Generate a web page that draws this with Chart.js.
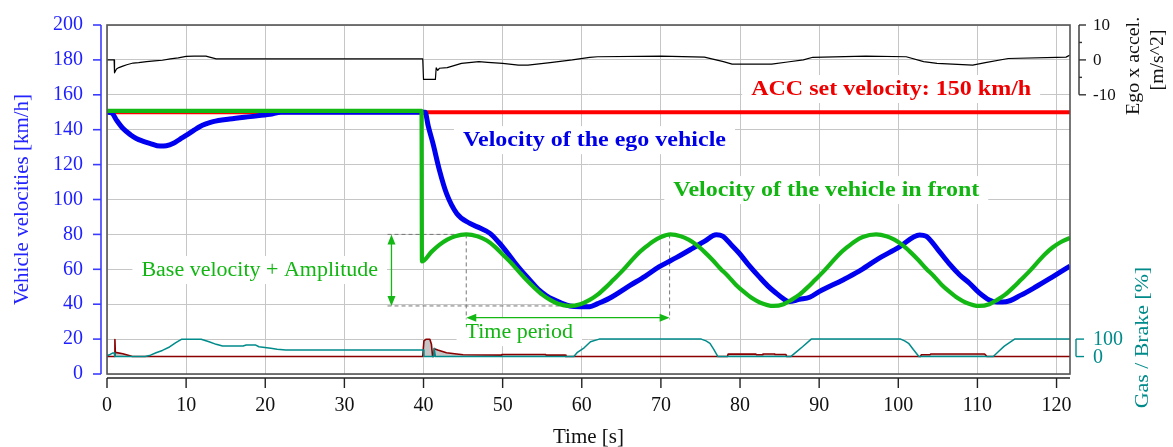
<!DOCTYPE html>
<html>
<head>
<meta charset="utf-8">
<script src="https://cdn.jsdelivr.net/npm/chart.js@4"></script>
<style>
    html, body { margin: 0; padding: 0; background: #fff; }
    #wrap { width: 1173px; height: 447px; }
</style>
</head>
<body>
<div id="wrap"><canvas id="accChart" width="1173" height="447"></canvas></div>
<script>
// Ego vehicle velocity [km/h]
const egoT = [0, 0.6, 1.2, 2, 3, 3.7, 4.5, 5.4, 6.7, 7.5, 8.4, 9.2, 10.1, 11, 11.7, 12.5, 13.4, 15.5, 18.1, 20.6, 22, 30, 40.2,
    40.6, 41.2, 42, 42.9, 44.2, 45.8, 47.2, 48.4, 49.5, 50.5, 51.5, 52.5, 53.5, 54.5, 55.5, 56.5, 57.5, 58.5, 59.8, 61, 62,
    63.5, 66, 68, 69.8, 72, 74, 75.5, 77, 77.8, 79, 79.9, 81, 82.4, 83.5, 84.6, 85.5, 86.2, 87.5, 88.8, 90, 93, 95, 97.2,
    100, 102.7, 103.5, 105, 106.4, 107.8, 109, 110.2, 111.5, 112.5, 113.6, 115.5, 117.4, 119.5, 121.7];
const egoV = [150, 149.6, 145.5, 140.8, 137, 135, 133.5, 132.2, 130.6, 130.8, 132.2, 134.5, 137, 139.7, 141.7, 143.3, 144.6, 146.1, 147.5, 148.8, 150, 150, 150,
    142, 132, 117, 103.5, 92, 86.4, 83.5, 80.6, 75.5, 70, 64, 58.5, 53.5, 48.5, 45, 42.5, 40.5, 39, 38.6, 38.6, 40.3,
    43.4, 50.5, 56, 61.5, 66.8, 72, 76, 79.8, 79, 73.5, 69.2, 63, 55.8, 50.5, 46.2, 43, 41.5, 42.8, 44, 47.2, 53.9, 58.8, 65.3,
    72.4, 79.7, 79, 71.3, 63.4, 56.6, 52, 46.6, 42.4, 41.2, 41.4, 45.2, 50, 55.7, 61.8];

// Velocity of the vehicle in front [km/h]
const frontT = [0, 39.75, 39.8, 41, 42, 43, 44, 45.4, 46.8, 48, 49, 50, 51, 52, 53, 54, 55, 56, 57, 58.4, 59.8, 61, 62, 63,
    64, 65, 66, 67, 68, 69, 70, 71.2, 72.5, 73.5, 74.5, 75.5, 76.5, 77.5, 78.5, 79.5, 80.5, 81.5, 82.5, 84.2, 85.5, 86.5,
    87.5, 88.5, 89.5, 90.5, 91.5, 92.5, 93.5, 94.5, 95.5, 97.2, 98.5, 99.5, 100.5, 101.5, 102.5, 103.5, 104.5, 105.5, 106.5,
    107.5, 108.5, 110.2, 111.5, 112.5, 113.5, 114.5, 115.5, 116.5, 117.5, 118.5, 119.5, 120.5, 121.7];
const frontV = [150.8, 150.8, 64.5, 70, 74, 77, 79, 80, 79, 76.5, 73, 68.5, 64, 59, 54, 49.5, 45.5, 42.5, 40.3, 39, 40, 42.5, 45.5, 49.5,
    54, 58.5, 63.5, 68.5, 72.5, 76, 78.5, 80, 79, 77, 74, 70, 65.5, 60.5, 56, 51, 47, 43.5, 41, 39, 40, 42.5,
    45.5, 49.5, 54, 58.5, 63.5, 68.5, 72.5, 76, 78.5, 80, 79, 77, 74, 70, 65.5, 60.5, 56, 51, 47,
    43.5, 41, 39, 40, 42.5, 45.5, 49.5, 54, 58.5, 63.5, 68.5, 72.5, 75.5, 78];

// ACC set velocity [km/h]
const setT = [0, 121.7];
const setV = [150, 150];

// Ego x acceleration [m/s^2]
const accT = [0, 0.9, 0.95, 1.2, 1.5, 2, 2.5, 3.3, 4, 5, 6, 7, 8, 9, 10, 11, 12.5, 13.8, 39.9, 40, 41.5, 41.6, 41.8, 42,
    43, 44.8, 47, 48.1, 50, 52, 53.2, 56, 58.8, 61, 62, 70, 75.5, 77.9, 79, 84, 86, 88, 89.2, 95.9, 101, 103.2, 104.9,
    109.4, 111, 113.9, 120, 121.2, 121.7];
const accA = [0, 0, -3.7, -2.6, -2.2, -1.8, -1.4, -0.9, -0.8, -0.5, -0.3, -0.1, 0.3, 0.6, 1, 1.1, 1.1, 0.3, 0.3, -5.6, -5.6, -2.3, -3, -2.4,
    -2.2, -1, -0.5, -0.7, -1, -1.5, -1.5, -0.8, 0, 0.75, 0.9, 1.1, 0.8, -0.5, -1.2, -1.2, -0.6, 0, 0.75, 1.1, 0.9, -0.5, -1,
    -1.5, -0.8, 0.4, 0.75, 0.8, 1.4];

// Gas pedal [%]
const gasT = [0, 0.4, 0.7, 0.9, 1, 4.8, 5.5, 6.2, 7, 7.9, 8.7, 9.4, 11.9, 12.9, 13.8, 14.6, 17.2, 17.6, 18.8, 19.2, 20.7, 21.5,
    22.6, 40, 40.05, 41.3, 41.35, 41.5, 59, 59.4, 60.3, 61.1, 62.2, 75.1, 75.7, 76.2, 76.7, 77.2, 86.4, 87.2, 87.9, 89,
    100.3, 100.8, 101.3, 101.9, 102.6, 112, 112.7, 113.4, 114.7, 121.7];
const gasP = [5, 12, 20, 20, 0, 0, 8, 22, 35, 55, 80, 99, 99, 85, 70, 60, 60, 66, 66, 56, 47, 42,
    37, 37, 0, 0, 47, 0, 0, 22, 50, 85, 100, 100, 90, 76, 40, 0, 0, 30, 56, 100,
    100, 90, 76, 40, 0, 0, 30, 60, 100, 100];

// Brake pedal [%]
const brakeT = [0, 0.95, 1, 1.05, 2, 2.9, 3.2, 39.9, 40.05, 40.3, 40.8, 41, 41.15, 41.3, 41.35, 41.8, 42.9, 44.2, 45, 49.8, 49.9,
    55.4, 55.5, 57.9, 58, 78.4, 78.5, 82, 82.1, 82.8, 82.9, 84.3, 84.4, 85.8, 85.9, 102.8, 102.9, 104, 104.1, 110.9, 111,
    111.2, 121.7];
const brakeP = [0, 0, 98, 24, 16, 5, 0, 0, 90, 99, 99, 70, 0, 0, 45, 37, 22, 15, 10, 8, 12,
    12, 8, 8, 0, 0, 14, 14, 10, 10, 15, 15, 12, 12, 0, 0, 10, 10, 15, 15, 10,
    0, 0];

// Axis ranges and tick labels
const timeMax = 121.7;
const velMax = 200;
const accTicks = [-10, -5, 0, 5, 10];
const accLabels = ['-10', '', '0', '', '10'];
const gasTicks = [0, 100];

// Text notes: text, time, velocity, colour, bold
const noteText = ['ACC set velocity: 150 km/h', 'Velocity of the ego vehicle', 'Velocity of the vehicle in front', 'Base velocity + Amplitude', 'Time period'];
const noteT = [99.1, 61.6, 90.9, 19.3, 52.1];
const noteV = [163.3, 134, 105.4, 59.6, 24];
const noteColor = ['#ee0000', '#0000e8', '#12b512', '#12b512', '#12b512'];
const noteBold = [true, true, true, false, false];

// Base velocity + Amplitude / Time period marks
const ampT = 35.95;
const ampV = [80, 39];
const periodT = [45.4, 71.1];
const periodV = 32.3;

const SERIF = '"Liberation Serif", "DejaVu Serif", serif';
const BLUE = '#0000f0';
const GREEN = '#14b814';
const TEAL = '#008b8b';
const MAROON = '#8b0000';
const GRID = '#c6c6c6';

function pts(ts, vs) {
    return ts.map((t, i) => ({ x: t, y: vs[i] }));
}

function line(ctx, x1, y1, x2, y2) {
    ctx.beginPath();
    ctx.moveTo(x1, y1);
    ctx.lineTo(x2, y2);
    ctx.stroke();
}

function arrowHead(ctx, x, y, dx, dy) {
    // dx, dy: unit direction the arrow points to
    const len = 10, half = 4;
    ctx.beginPath();
    ctx.moveTo(x, y);
    ctx.lineTo(x - dx * len - dy * half, y - dy * len + dx * half);
    ctx.lineTo(x - dx * len + dy * half, y - dy * len - dx * half);
    ctx.closePath();
    ctx.fill();
}

// rotated text, stretched along the text direction (the original font is wider)
function vText(ctx, text, cx, cy, font, color, stretch) {
    ctx.save();
    ctx.translate(cx, cy);
    ctx.rotate(-Math.PI / 2);
    ctx.scale(stretch || 1, 1);
    ctx.font = font;
    ctx.fillStyle = color;
    ctx.textAlign = 'center';
    ctx.textBaseline = 'middle';
    ctx.fillText(text, 0, 0);
    ctx.restore();
}

const decor = {
    id: 'decor',
    beforeDatasetsDraw(chart) {
        const { ctx, scales } = chart;
        const x = scales.x, y = scales.y;
        ctx.save();

        // notes with white boxes
        noteText.forEach((txt, i) => {
            const px = x.getPixelForValue(noteT[i]);
            const py = y.getPixelForValue(noteV[i]);
            const stretch = noteBold[i] ? 1.2 : 1.1;
            ctx.font = (noteBold[i] ? 'bold ' : '') + '20px ' + SERIF;
            const w = ctx.measureText(txt).width * stretch;
            ctx.fillStyle = '#fff';
            ctx.fillRect(px - w / 2 - 9, py - 14, w + 18, 28);
            ctx.save();
            ctx.translate(px, py + 1);
            ctx.scale(stretch, 1);
            ctx.fillStyle = noteColor[i];
            ctx.textAlign = 'center';
            ctx.textBaseline = 'middle';
            ctx.fillText(txt, 0, 0);
            ctx.restore();
        });

        // dashed helper lines
        ctx.strokeStyle = '#777';
        ctx.lineWidth = 1;
        ctx.setLineDash([4, 3]);
        const xa = x.getPixelForValue(ampT - 0.5);
        line(ctx, xa, y.getPixelForValue(ampV[0]), x.getPixelForValue(periodT[0]), y.getPixelForValue(ampV[0]));
        line(ctx, xa, y.getPixelForValue(ampV[1]), x.getPixelForValue(58.4), y.getPixelForValue(ampV[1]));
        periodT.forEach(t => {
            line(ctx, x.getPixelForValue(t), y.getPixelForValue(ampV[0]), x.getPixelForValue(t), y.getPixelForValue(periodV - 1));
        });
        ctx.setLineDash([]);

        // green arrows
        ctx.strokeStyle = GREEN;
        ctx.fillStyle = GREEN;
        ctx.lineWidth = 1.3;
        const ax = x.getPixelForValue(ampT);
        const ay1 = y.getPixelForValue(ampV[0]), ay2 = y.getPixelForValue(ampV[1]);
        line(ctx, ax, ay1 + 6, ax, ay2 - 6);
        arrowHead(ctx, ax, ay1, 0, -1);
        arrowHead(ctx, ax, ay2, 0, 1);
        const py = y.getPixelForValue(periodV);
        const px1 = x.getPixelForValue(periodT[0]), px2 = x.getPixelForValue(periodT[1]);
        line(ctx, px1 + 6, py, px2 - 6, py);
        arrowHead(ctx, px1, py, -1, 0);
        arrowHead(ctx, px2, py, 1, 0);
        ctx.restore();
    },
    afterDraw(chart) {
        const { ctx, chartArea: a, scales } = chart;
        const x = scales.x, y = scales.y, ya = scales.yAcc, yg = scales.yGas;
        ctx.save();

        // plot frame
        ctx.strokeStyle = '#555';
        ctx.lineWidth = 1.6;
        ctx.strokeRect(a.left, a.top, a.right - a.left, a.bottom - a.top);

        // left velocity axis (blue), set off from the frame
        const lx = a.left - 6;
        ctx.strokeStyle = '#3b3bff';
        ctx.lineWidth = 1.6;
        line(ctx, lx, a.top, lx, a.bottom);
        y.ticks.forEach(t => {
            const p = y.getPixelForValue(t.value);
            line(ctx, lx - (t.value % 20 === 0 ? 8 : 3), p, lx, p);
        });

        // bottom time axis
        const by = a.bottom + 4;
        ctx.strokeStyle = '#222';
        ctx.lineWidth = 1.4;
        line(ctx, a.left, by, a.right, by);
        x.ticks.forEach(t => {
            const p = x.getPixelForValue(t.value);
            line(ctx, p, by, p, by + 10);
        });

        // acceleration axis bracket (top right)
        const rx = a.right + 9;
        ctx.strokeStyle = '#333';
        ctx.lineWidth = 1.4;
        line(ctx, rx, ya.getPixelForValue(accTicks[accTicks.length - 1]), rx, ya.getPixelForValue(accTicks[0]));
        ctx.font = '17px ' + SERIF;
        ctx.fillStyle = '#111';
        ctx.textAlign = 'left';
        ctx.textBaseline = 'middle';
        accTicks.forEach((v, i) => {
            const p = ya.getPixelForValue(v);
            line(ctx, rx, p, rx + (accLabels[i] ? 7 : 3), p);
            if (accLabels[i]) ctx.fillText(accLabels[i], rx + 14, p + 1);
        });
        vText(ctx, 'Ego x accel.', a.right + 64, ya.getPixelForValue(0) + 6, '19px ' + SERIF, '#111', 1.05);
        vText(ctx, '[m/s^2]', a.right + 88, ya.getPixelForValue(0), '18px ' + SERIF, '#111', 1.1);

        // gas / brake axis bracket (bottom right)
        const gx = a.right + 6;
        ctx.strokeStyle = TEAL;
        line(ctx, gx, yg.getPixelForValue(gasTicks[1]), gx, yg.getPixelForValue(gasTicks[0]));
        ctx.font = '20px ' + SERIF;
        ctx.fillStyle = TEAL;
        gasTicks.forEach(v => {
            const p = yg.getPixelForValue(v);
            line(ctx, gx, p, gx + 8, p);
            ctx.fillText(String(v), a.right + 23, p + 1);
        });
        vText(ctx, 'Gas / Brake [%]', a.right + 73, yg.getPixelForValue(0) - 19, '19px ' + SERIF, TEAL, 1.15);
        ctx.restore();
    }
};

new Chart(document.getElementById('accChart'), {
    type: 'line',
    data: {
        datasets: [
            { label: 'front', data: pts(frontT, frontV), borderColor: GREEN, borderWidth: 4.2, cubicInterpolationMode: 'monotone' },
            { label: 'ego', data: pts(egoT, egoV), borderColor: BLUE, borderWidth: 5, cubicInterpolationMode: 'monotone' },
            { label: 'set', data: pts(setT, setV), borderColor: '#ff0000', borderWidth: 4 },
            { label: 'gas', data: pts(gasT, gasP), borderColor: TEAL, borderWidth: 1.5, yAxisID: 'yGas' },
            { label: 'brake', data: pts(brakeT, brakeP), borderColor: MAROON, borderWidth: 1.6, yAxisID: 'yGas',
              fill: { target: { value: 0 } }, backgroundColor: 'rgba(150,150,150,0.55)' },
            { label: 'accel', data: pts(accT, accA), borderColor: '#000', borderWidth: 1.2, yAxisID: 'yAcc' }
        ]
    },
    options: {
        responsive: false,
        animation: false,
        devicePixelRatio: 1,
        parsing: false,
        layout: { padding: { top: 25, right: 103, left: 0, bottom: 0 } },
        elements: { point: { radius: 0 }, line: { borderCapStyle: 'butt', borderJoinStyle: 'round' } },
        plugins: { legend: { display: false }, tooltip: { enabled: false } },
        scales: {
            x: {
                type: 'linear',
                min: 0,
                max: timeMax,
                afterFit: s => { s.height = 73; },
                border: { display: false },
                grid: { color: GRID, lineWidth: 1, drawTicks: false },
                ticks: { stepSize: 10, includeBounds: false, padding: 20, color: '#111', font: { family: SERIF, size: 20 }, maxRotation: 0 },
                title: { display: true, text: 'Time [s]', color: '#111', font: { family: SERIF, size: 21 }, padding: { top: 0, bottom: -3 } }
            },
            y: {
                type: 'linear',
                position: 'left',
                min: 0,
                max: velMax,
                // fixed width, and no extra room above/below for the end labels
                afterFit: s => { s.width = 107; s.paddingTop = 0; s.paddingBottom = 0; },
                border: { display: false },
                grid: { color: GRID, lineWidth: 1, drawTicks: false },
                ticks: { stepSize: 10, padding: 24, color: '#1f1fff', font: { family: SERIF, size: 20 },
                    callback: v => (v % 20 === 0 ? String(v) : '') },
                title: { display: true, text: 'Vehicle velocities [km/h]', color: '#2424ff', font: { family: SERIF, size: 21 }, padding: { top: 10, bottom: 0 } }
            },
            yAcc: { type: 'linear', position: 'right', display: false, min: -90, max: 10 },
            yGas: { type: 'linear', position: 'right', display: false, min: -100, max: 1900 }
        }
    },
    plugins: [decor]
});
</script>
</body>
</html>
